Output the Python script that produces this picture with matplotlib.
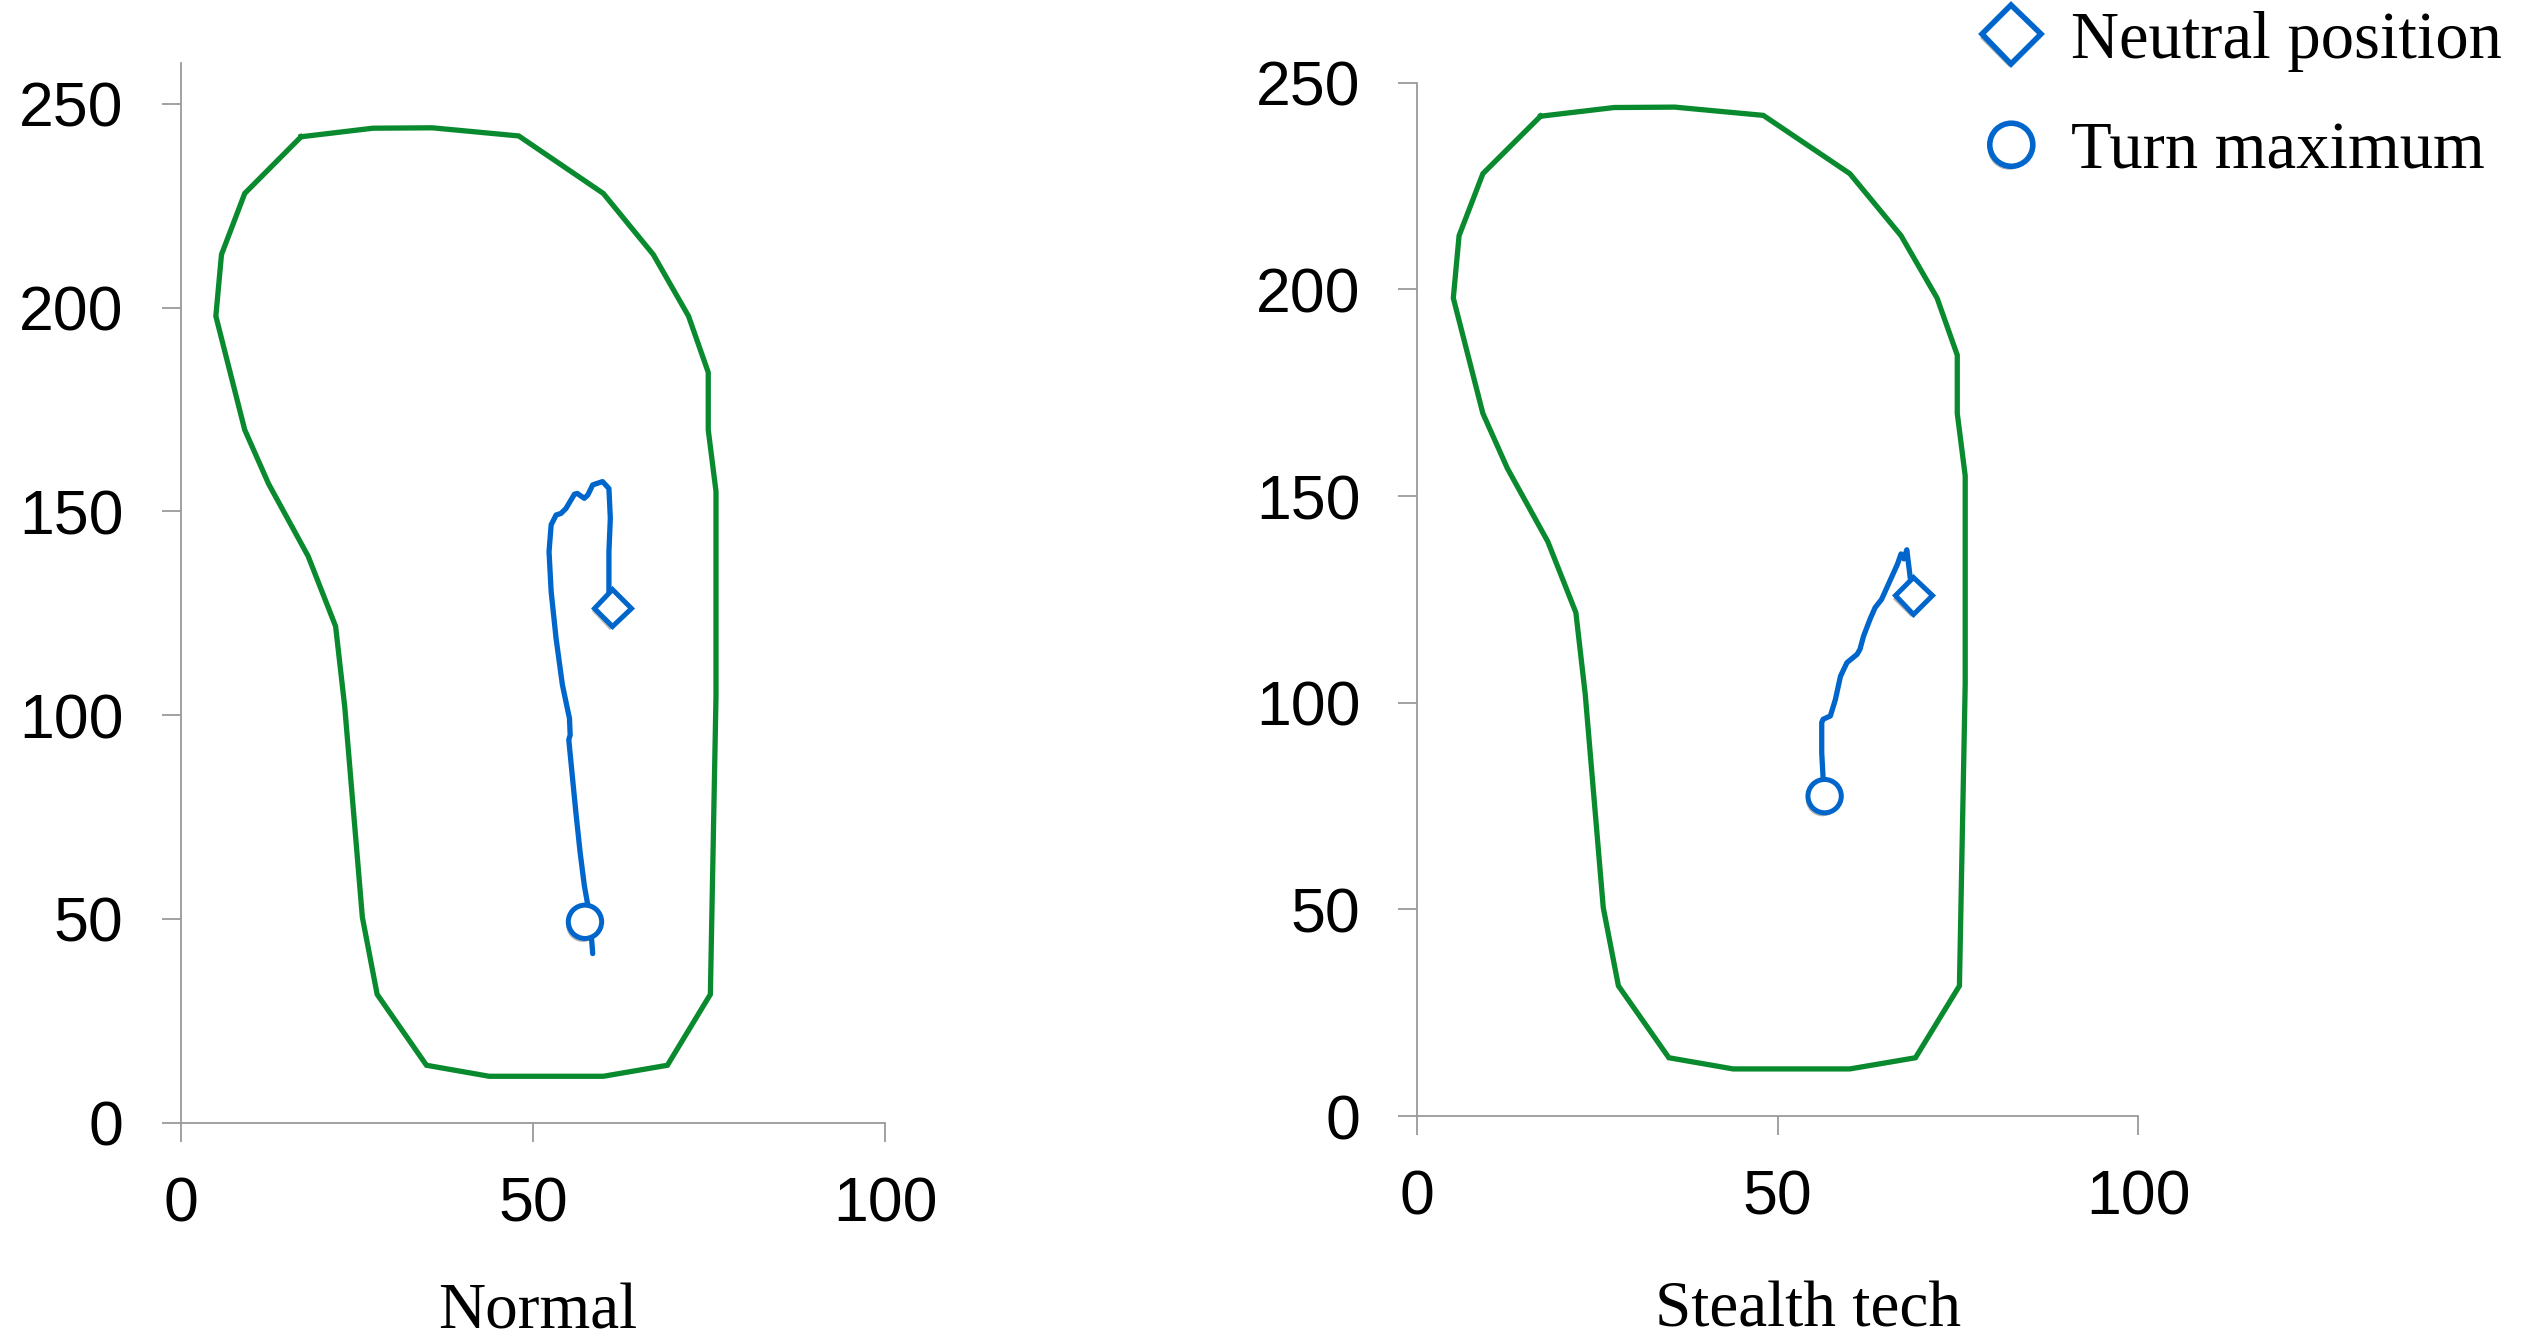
import matplotlib
matplotlib.use("Agg")
import matplotlib.pyplot as plt
import matplotlib.patheffects as pe
from matplotlib.lines import Line2D

# foot outline (same for both panels)
outline_x = [17.1, 27.3, 35.7, 48.0, 60.0, 67.1, 72.1, 74.9, 74.9, 76.0, 76.0, 76.0,
             75.2, 69.1, 60.0, 43.8, 34.9, 27.9, 25.8, 23.3, 22.0, 18.1, 12.5,
             9.1, 5.0, 5.8, 9.1, 17.1]
outline_y = [241.9, 244.0, 244.1, 242.1, 228.0, 213.0, 197.9, 184.1, 170.0, 154.9, 136.4, 104.6,
             31.5, 14.1, 11.4, 11.4, 14.1, 31.5, 50.4, 102.0, 121.8, 139.0, 156.7,
             170.0, 197.9, 213.0, 228.0, 241.9]

# Normal: trace from neutral position to turn maximum
normal_x = [61.3, 60.8, 60.8, 61.0, 60.8, 59.9, 58.5, 57.8, 57.3, 56.3, 55.9, 54.7, 54.0,
            53.3, 52.6, 52.3, 52.6, 53.3, 54.2, 55.2, 55.3, 55.1, 55.5, 56.1, 56.7,
            57.3, 57.8, 58.2, 58.5]
normal_y = [126.4, 130.3, 140.1, 148.3, 155.6, 157.3, 156.5, 154.0, 153.2, 154.4, 154.2, 150.7,
            149.5, 149.1, 146.7, 140.1, 130.3, 118.8, 107.4, 99.2, 95.1, 94.0, 86.9, 76.3,
            66.5, 58.3, 53.4, 48.0, 41.5]
normal_neutral = (61.3, 126.4)
normal_turn = (57.4, 49.3)

# Stealth tech
stealth_x = [68.8, 68.4, 67.9, 67.5, 67.1, 66.6, 64.4, 63.5, 62.8, 61.9, 61.4, 61.0, 59.6,
             58.7, 58.0, 57.3, 56.3, 56.1, 56.1, 56.3, 56.5]
stealth_y = [126.0, 129.9, 137.0, 134.8, 136.0, 133.5, 125.0, 123.0, 120.2, 116.1, 112.9, 111.7,
             109.7, 106.4, 100.8, 96.8, 96.0, 95.2, 87.9, 81.4, 77.4]
stealth_neutral = (68.8, 126.0)
stealth_turn = (56.5, 77.4)

titles = ["Normal", "Stealth tech"]
xticks = [0, 50, 100]
yticks = [0, 50, 100, 150, 200, 250]

BLUE = "#0066CC"
GREEN = "#0A8A2E"
GRAY = "#9A9A9A"
SANS = "Liberation Sans"
SERIF = "Liberation Serif"

shadow = [pe.SimplePatchShadow(offset=(-1.5, -2.5), shadow_rgbFace="#555555", alpha=0.45),
          pe.Normal()]

fig = plt.figure(figsize=(25.44, 13.43), dpi=100)
ax1 = fig.add_axes([0.0710, 0.1640, 0.2769, 0.7891])
ax2 = fig.add_axes([0.5571, 0.1690, 0.2834, 0.7694])

panels = [
    (ax1, normal_x, normal_y, normal_neutral, normal_turn, 260),
    (ax2, stealth_x, stealth_y, stealth_neutral, stealth_turn, 250),
]

for ax, tx, ty, neutral, turn, ytop in panels:
    ax.plot(outline_x, outline_y, color=GREEN, lw=3.8, solid_joinstyle="miter")
    ax.plot(tx, ty, color=BLUE, lw=3.8, solid_capstyle="round")
    ax.plot(*neutral, marker="D", ms=19, mfc="white", mec=BLUE, mew=3.6,
            ls="none", path_effects=shadow)
    ax.plot(*turn, marker="o", ms=24, mfc="white", mec=BLUE, mew=3.6,
            ls="none", path_effects=shadow)

    ax.set_xlim(0, 100)
    ax.set_ylim(0, ytop)
    ax.set_xticks(xticks)
    ax.set_yticks(yticks)
    for side in ["top", "right"]:
        ax.spines[side].set_visible(False)
    for side in ["left", "bottom"]:
        ax.spines[side].set_color(GRAY)
        ax.spines[side].set_linewidth(1.3)
    ax.tick_params(axis="both", direction="out", length=14, width=1.3, color=GRAY,
                   labelsize=45, labelcolor="black")
    ax.tick_params(axis="y", pad=27)
    ax.tick_params(axis="x", pad=24)
    for lab in ax.get_xticklabels() + ax.get_yticklabels():
        lab.set_fontfamily(SANS)

fig.text(0.2115, 0.011, titles[0], ha="center", va="baseline",
         fontsize=47, family=SERIF)
fig.text(0.7107, 0.012, titles[1], ha="center", va="baseline",
         fontsize=47, family=SERIF)

handles = [
    Line2D([], [], marker="D", ms=30, mfc="white", mec=BLUE, mew=4.0, ls="none",
           path_effects=shadow),
    Line2D([], [], marker="o", ms=31, mfc="white", mec=BLUE, mew=4.0, ls="none",
           path_effects=shadow),
]
fig.legend(handles, ["Neutral position", "Turn maximum"], loc="upper left",
           bbox_to_anchor=(0.7775, 0.992), frameon=False, borderpad=0, borderaxespad=0,
           handlelength=1.0, handletextpad=0.4, labelspacing=0.74,
           prop={"family": SERIF, "size": 48})

fig.savefig("out.png", dpi=100, facecolor="white")
